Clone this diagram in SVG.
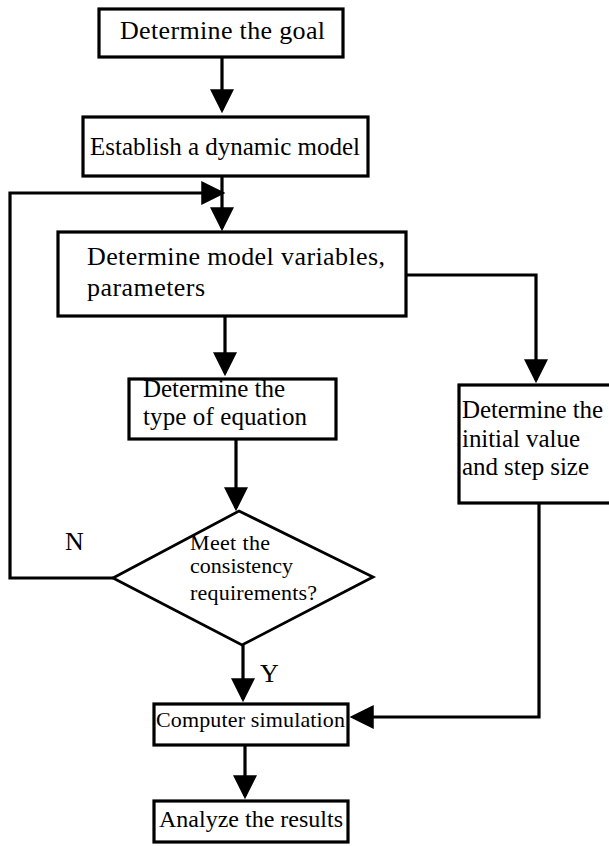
<svg xmlns="http://www.w3.org/2000/svg" width="609" height="846" viewBox="0 0 609 846">
<style>
.box{fill:#fff;stroke:#000;stroke-width:3.2}
.dia{fill:#fff;stroke:#000;stroke-width:2.8}
.t{font-family:"Liberation Serif","Times New Roman",serif;fill:#000}
.conn path{fill:none;stroke:#000;stroke-width:3.2}
</style>
<defs>
<marker id="ah" markerUnits="userSpaceOnUse" markerWidth="24" markerHeight="24" viewBox="0 0 22 22" refX="19" refY="11" orient="auto">
<path d="M0,0 L22,11 L0,22 z" fill="#000"/>
</marker>
</defs>
<rect width="609" height="846" fill="#fff"/>
<g class="conn">
<path d="M222,58 V110" marker-end="url(#ah)"/>
<path d="M222,177 V228" marker-end="url(#ah)"/>
<path d="M113,578 H10 V193 H222" marker-end="url(#ah)"/>
<path d="M225,316 V373" marker-end="url(#ah)"/>
<path d="M407,275 H536 V380" marker-end="url(#ah)"/>
<path d="M236,440 V508" marker-end="url(#ah)"/>
<path d="M243,645 V699" marker-end="url(#ah)"/>
<path d="M539,504 V717 H353" marker-end="url(#ah)"/>
<path d="M245,746 V796" marker-end="url(#ah)"/>
</g>
<g id="goal">
<rect class="box" x="99" y="9" width="244" height="48"/>
<text class="t" x="120" y="39" font-size="26" textLength="205">Determine the goal</text>
</g>
<g id="model">
<rect class="box" x="83" y="117" width="285" height="59"/>
<text class="t" x="90" y="155" font-size="25" textLength="270">Establish a dynamic model</text>
</g>
<g id="variables">
<rect class="box" x="58" y="232" width="348" height="84"/>
<text class="t" x="87" y="265" font-size="26" textLength="298">Determine model variables,</text>
<text class="t" x="87" y="296" font-size="26" textLength="118">parameters</text>
</g>
<g id="equation">
<rect class="box" x="129" y="379" width="207" height="60"/>
<text class="t" x="143" y="397" font-size="25" textLength="142">Determine the</text>
<text class="t" x="143" y="425" font-size="25" textLength="164">type of equation</text>
</g>
<g id="initial">
<rect class="box" x="459" y="385" width="160" height="118"/>
<text class="t" x="462" y="418" font-size="25" textLength="141">Determine the</text>
<text class="t" x="462" y="447" font-size="25" textLength="118">initial value</text>
<text class="t" x="462" y="475" font-size="25" textLength="127">and step size</text>
</g>
<g id="decision">
<polygon class="dia" points="239,511 373,577 242,645 113,578"/>
<text class="t" x="190" y="550" font-size="22" textLength="80">Meet the</text>
<text class="t" x="190" y="573" font-size="22" textLength="103">consistency</text>
<text class="t" x="190" y="600" font-size="22" textLength="127">requirements?</text>
</g>
<g id="labels">
<text class="t" x="65" y="550" font-size="26">N</text>
<text class="t" x="260" y="682" font-size="26">Y</text>
</g>
<g id="simulation">
<rect class="box" x="154" y="704" width="194" height="41"/>
<text class="t" x="156" y="727" font-size="22" textLength="189">Computer simulation</text>
</g>
<g id="results">
<rect class="box" x="154" y="801" width="194" height="41"/>
<text class="t" x="159" y="827" font-size="24" textLength="184">Analyze the results</text>
</g>
</svg>
